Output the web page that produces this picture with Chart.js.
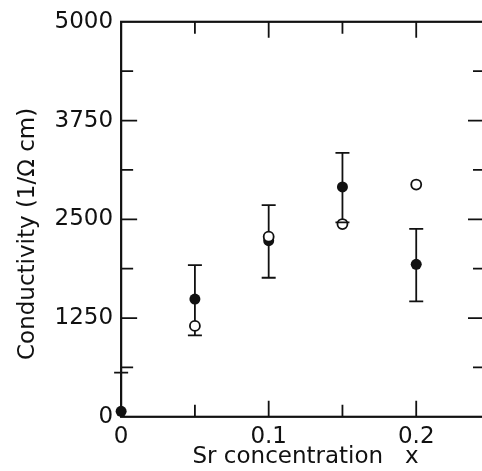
<!DOCTYPE html>
<html>
<head>
<meta charset="utf-8">
<script src="https://cdn.jsdelivr.net/npm/chart.js@4/dist/chart.umd.min.js"></script>
<style>
  html, body { margin: 0; padding: 0; background: #fff; overflow: hidden; }
  #wrap { width: 482px; height: 471px; overflow: hidden; }
  canvas { display: block; }
</style>
</head>
<body>
<div id="wrap"><canvas id="chart" width="500" height="471"></canvas></div>
<script>
// solid circles (with error bars)
const xFilled = [0, 0.05, 0.1, 0.15, 0.2];
const yFilled = [70, 1490, 2230, 2910, 1930];
const errLow  = [-420, 1030, 1760, 2460, 1460];
const errHigh = [560, 1920, 2680, 3340, 2380];
// open circles
const xOpen = [0.05, 0.1, 0.15, 0.2];
const yOpen = [1150, 2280, 2440, 2940];
// labelled ticks
const xTickLabels = [0, 0.1, 0.2];
const yTickLabels = [0, 1250, 2500, 3750, 5000];

const INK = '#111';
Chart.defaults.font.family = "'DejaVu Sans', sans-serif";
Chart.defaults.font.size = 23;
Chart.defaults.color = INK;

const isLabelled = (v, list) => list.some(t => Math.abs(t - v) < 1e-6);

// box + inward ticks on all four sides
const frame = {
  id: 'frame',
  beforeDatasetsDraw(chart) {
    const { ctx, chartArea: a, scales: { x, y } } = chart;
    ctx.save();
    ctx.strokeStyle = INK;
    ctx.lineWidth = 2.2;
    ctx.strokeRect(a.left, a.top, a.right - a.left, a.bottom - a.top);
    ctx.lineWidth = 1.8;
    ctx.beginPath();
    x.ticks.forEach(t => {
      if (t.value <= x.min || t.value >= x.max) return;
      const px = x.getPixelForValue(t.value);
      const len = isLabelled(t.value, xTickLabels) ? 16 : 12;
      ctx.moveTo(px, a.bottom); ctx.lineTo(px, a.bottom - len);
      ctx.moveTo(px, a.top); ctx.lineTo(px, a.top + len);
    });
    y.ticks.forEach(t => {
      if (t.value <= y.min || t.value >= y.max) return;
      const py = y.getPixelForValue(t.value);
      const major = isLabelled(t.value, yTickLabels);
      ctx.moveTo(a.left, py); ctx.lineTo(a.left + (major ? 16 : 12), py);
      ctx.moveTo(a.right, py); ctx.lineTo(a.right - (major ? 22 : 17), py);
    });
    ctx.stroke();

    // vertical error bars
    ctx.save();
    ctx.beginPath();
    ctx.rect(0, a.top, chart.width, a.bottom - a.top);
    ctx.clip();
    ctx.lineWidth = 1.8;
    ctx.beginPath();
    xFilled.forEach((xv, i) => {
      const px = x.getPixelForValue(xv);
      ctx.moveTo(px, y.getPixelForValue(errLow[i]));
      ctx.lineTo(px, y.getPixelForValue(errHigh[i]));
    });
    ctx.stroke();
    ctx.restore();
    ctx.restore();
  },
  afterDatasetsDraw(chart) {
    const { ctx, scales: { x, y } } = chart;
    ctx.save();
    ctx.strokeStyle = INK;
    ctx.lineWidth = 1.8;
    ctx.beginPath();
    xFilled.forEach((xv, i) => {
      const px = x.getPixelForValue(xv);
      [errLow[i], errHigh[i]].forEach(v => {
        if (v < y.min) return;
        const py = y.getPixelForValue(v);
        ctx.moveTo(px - 7, py); ctx.lineTo(px + 7, py);
      });
    });
    ctx.stroke();
    ctx.restore();
  }
};

new Chart(document.getElementById('chart'), {
  type: 'scatter',
  data: {
    datasets: [
      {
        label: 'open',
        data: xOpen.map((v, i) => ({ x: v, y: yOpen[i] })),
        pointRadius: 5,
        pointBackgroundColor: '#fff',
        pointBorderColor: INK,
        pointBorderWidth: 1.8,
        clip: false,
        order: 0
      },
      {
        label: 'solid',
        data: xFilled.map((v, i) => ({ x: v, y: yFilled[i] })),
        pointRadius: 5.5,
        pointBackgroundColor: INK,
        pointBorderColor: INK,
        pointBorderWidth: 0,
        clip: false,
        order: 1
      }
    ]
  },
  options: {
    responsive: false,
    animation: false,
    layout: { padding: { left: 11, right: 10, top: 20, bottom: 0 } },
    plugins: { legend: { display: false }, tooltip: { enabled: false } },
    scales: {
      x: {
        type: 'linear',
        min: 0,
        max: 0.25,
        grid: { display: false, drawTicks: false },
        border: { display: false },
        ticks: {
          stepSize: 0.05,
          padding: 6,
          maxRotation: 0,
          autoSkip: false,
          callback: v => isLabelled(v, xTickLabels) ? String(parseFloat(v.toFixed(2))) : ''
        },
        title: { display: true, text: 'Sr concentration   x', padding: { top: -13, bottom: 0 } }
      },
      y: {
        min: 0,
        max: 5000,
        grid: { display: false, drawTicks: false },
        border: { display: false },
        ticks: {
          stepSize: 625,
          padding: 8,
          autoSkip: false,
          callback: v => isLabelled(v, yTickLabels) ? String(v) : ''
        },
        title: { display: true, text: 'Conductivity (1/Ω cm)    ', padding: { top: 3, bottom: 5 } }
      }
    }
  },
  plugins: [frame]
});
</script>
</body>
</html>
